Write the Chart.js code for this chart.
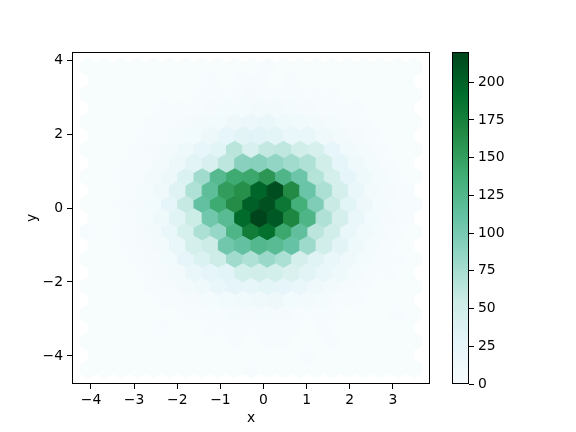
<!DOCTYPE html>
<html>
<head>
<meta charset="utf-8">
<script src="https://cdn.jsdelivr.net/npm/chart.js@4/dist/chart.umd.min.js"></script>
<style>
  html, body { margin: 0; padding: 0; background: #fff; }
  #wrap { position: relative; width: 576px; height: 432px; }
  #wrap canvas { position: absolute; left: 0; top: 0; }
</style>
</head>
<body>
<div id="wrap">
  <canvas id="hexChart" width="576" height="432"></canvas>
  <canvas id="colorbar" width="576" height="432"></canvas>
</div>
<script>
// data extents of the sample and hexbin grid size
const xMin = -4.063, xMax = 3.482;
const yMin = -4.352, yMax = 3.812;
const gridX = 20, gridY = 11;

// axis ranges and ticks
const xAxisMin = -4.44, xAxisMax = 3.86;
const yAxisMin = -4.76, yAxisMax = 4.22;
const xTicks = [-4, -3, -2, -1, 0, 1, 2, 3];
const yTicks = [-4, -2, 0, 2, 4];
const cbarTicks = [0, 25, 50, 75, 100, 125, 150, 175, 200];

// counts per hexagon, top row first (rows alternate 21 / 20 cells)
const countRows = [
  [0,0,0,0,0,0,0,0,0,0,0,1,0,0,0,0,0,0,0,0,0],
  [0,0,0,0,0,0,0,1,0,1,1,0,1,0,0,0,0,0,0,0],
  [0,0,0,0,0,0,0,1,1,2,3,1,2,2,1,1,0,0,0,0,0],
  [0,0,0,0,1,1,2,3,5,4,6,7,5,3,2,1,1,0,0,0],
  [0,0,0,0,1,2,3,6,9,14,18,20,13,11,8,4,2,1,0,0,0],
  [0,0,0,1,2,5,9,16,24,30,31,29,22,20,12,7,3,1,0,0],
  [0,0,0,1,3,6,13,24,32,65,42,60,62,50,43,24,11,4,2,0,0],
  [0,0,1,2,6,15,30,42,63,91,92,86,78,70,50,28,12,4,2,0],
  [0,0,1,2,6,15,38,78,122,140,142,156,126,106,68,46,28,13,4,1,0],
  [0,0,2,5,12,34,70,116,152,162,198,214,166,108,72,46,21,8,3,1],
  [0,0,1,3,9,26,58,112,140,164,202,212,182,136,96,56,32,14,5,2,1],
  [0,0,2,5,13,33,55,104,120,194,220,206,170,128,70,46,22,9,3,1],
  [1,0,1,3,7,22,44,72,84,128,178,190,142,114,64,48,22,11,4,1,0],
  [0,0,1,3,8,22,46,54,104,112,124,120,110,80,48,30,13,5,2,0],
  [0,0,0,1,3,9,26,38,52,78,70,82,72,46,33,22,12,5,2,1,0],
  [0,0,0,1,3,8,20,26,31,47,48,47,40,30,21,13,5,2,1,0],
  [0,0,0,0,1,3,6,12,20,26,25,29,26,21,12,7,3,1,0,0,0],
  [0,0,0,0,1,2,3,5,9,11,12,14,9,7,4,2,1,0,0,0],
  [0,0,0,0,0,0,1,1,2,4,3,5,3,2,2,1,0,0,0,1,0],
  [0,0,0,0,1,0,0,1,1,1,2,1,1,0,1,0,0,0,0,0],
  [0,0,0,0,0,0,0,0,0,1,0,1,1,0,0,1,0,0,0,0,0],
  [0,0,0,0,0,0,0,0,0,0,0,0,0,1,0,0,0,0,0,0],
  [0,0,0,0,0,0,0,0,0,0,1,0,0,0,0,0,0,0,0,0,0]
];

// BuGn colormap stops
const bugnStops = ['#f7fcfd', '#e5f5f9', '#ccece6', '#99d8c9', '#66c2a4',
  '#41ae76', '#238b45', '#006d2c', '#00441b'];

const sx = (xMax - xMin) / gridX;
const sy = (yMax - yMin) / gridY;
const countMax = Math.max(...countRows.flat());

// hexagon corners in units of [sx, sy/3], as matplotlib draws them
const hexCorners = [[0.5, -0.5], [0.5, 0.5], [0, 1], [-0.5, 0.5], [-0.5, -0.5], [0, -1]];

// lattice 1 (even rows) first, then lattice 2 (odd rows, shifted half a cell)
const cells = [];
[0, 1].forEach(lat => {
    countRows.forEach((row, r) => {
        const k = countRows.length - 1 - r;
        if (k % 2 !== lat) return;
        row.forEach((v, i) => {
            cells.push({ x: xMin + (i + lat * 0.5) * sx, y: yMin + k * sy / 2, v });
        });
    });
});

function hexToRgb(h) {
    return [1, 3, 5].map(p => parseInt(h.slice(p, p + 2), 16));
}
const stopRgb = bugnStops.map(hexToRgb);

function bugn(t) {
    t = Math.min(1, Math.max(0, t));
    const pos = t * (stopRgb.length - 1);
    const i = Math.min(stopRgb.length - 2, Math.floor(pos));
    const f = pos - i;
    const c = stopRgb[i].map((a, j) => Math.round(a + (stopRgb[i + 1][j] - a) * f));
    return `rgb(${c[0]},${c[1]},${c[2]})`;
}

const minusFmt = v => (v < 0 ? '\u2212' + Math.abs(v) : String(v));

Chart.defaults.font.family = "'DejaVu Sans', sans-serif";
Chart.defaults.font.size = 13.9;
Chart.defaults.color = '#000';

const framePlugin = {
    id: 'frame',
    afterDraw(chart) {
        const { ctx, chartArea: a } = chart;
        ctx.save();
        ctx.strokeStyle = '#000';
        ctx.lineWidth = 1;
        ctx.strokeRect(Math.round(a.left) + 0.5, Math.round(a.top) + 0.5,
            Math.round(a.right - a.left) - 1, Math.round(a.bottom - a.top) - 1);
        ctx.restore();
    }
};

const hexPlugin = {
    id: 'hexCells',
    beforeDatasetsDraw(chart) {
        const { ctx, chartArea: a, scales: { x, y } } = chart;
        ctx.save();
        ctx.beginPath();
        ctx.rect(a.left, a.top, a.right - a.left, a.bottom - a.top);
        ctx.clip();
        ctx.lineWidth = 1;
        chart.data.datasets[0].data.forEach(c => {
            const color = bugn(c.v / countMax);
            ctx.fillStyle = color;
            ctx.strokeStyle = color;
            ctx.beginPath();
            hexCorners.forEach(([dx, dy], i) => {
                const px = x.getPixelForValue(c.x + dx * sx);
                const py = y.getPixelForValue(c.y + dy * sy / 3);
                if (i === 0) ctx.moveTo(px, py); else ctx.lineTo(px, py);
            });
            ctx.closePath();
            ctx.fill();
            ctx.stroke();
        });
        ctx.restore();
    }
};

const tickGrid = { drawOnChartArea: false, drawTicks: true, tickLength: 5, color: '#000', lineWidth: 1 };

new Chart(document.getElementById('hexChart'), {
    type: 'scatter',
    data: { datasets: [{ data: cells, pointRadius: 0, pointHoverRadius: 0 }] },
    options: {
        responsive: false,
        animation: false,
        events: [],
        layout: { padding: { left: 0, top: 52, right: 146, bottom: 0 } },
        plugins: { legend: { display: false }, tooltip: { enabled: false } },
        scales: {
            x: {
                type: 'linear', min: xAxisMin, max: xAxisMax,
                afterBuildTicks: s => { s.ticks = xTicks.map(v => ({ value: v })); },
                afterFit: s => { s.height = 48; },
                ticks: { callback: minusFmt, padding: 3, maxRotation: 0, autoSkip: false },
                grid: tickGrid,
                border: { display: false },
                title: { display: true, text: 'x', padding: { top: 0, bottom: 5 } }
            },
            y: {
                type: 'linear', min: yAxisMin, max: yAxisMax,
                afterBuildTicks: s => { s.ticks = yTicks.map(v => ({ value: v })); },
                afterFit: s => { s.width = 72; },
                ticks: { callback: minusFmt, padding: 4, autoSkip: false },
                grid: tickGrid,
                border: { display: false },
                title: { display: true, text: 'y', padding: { top: 24, bottom: 0 } }
            }
        }
    },
    plugins: [hexPlugin, framePlugin]
});

new Chart(document.getElementById('colorbar'), {
    type: 'bar',
    data: {
        labels: ['count'],
        datasets: [{
            data: [[0, countMax]],
            barPercentage: 1,
            categoryPercentage: 1,
            borderWidth: 0,
            backgroundColor: ctx => {
                const area = ctx.chart.chartArea;
                if (!area) return bugnStops[4];
                const g = ctx.chart.ctx.createLinearGradient(0, area.bottom, 0, area.top);
                bugnStops.forEach((c, i) => g.addColorStop(i / (bugnStops.length - 1), c));
                return g;
            }
        }]
    },
    options: {
        responsive: false,
        animation: false,
        events: [],
        layout: { padding: { left: 452, top: 52, right: 0, bottom: 48 } },
        plugins: { legend: { display: false }, tooltip: { enabled: false } },
        scales: {
            x: { display: false },
            y: {
                position: 'right', min: 0, max: countMax,
                afterBuildTicks: s => { s.ticks = cbarTicks.map(v => ({ value: v })); },
                afterFit: s => { s.width = 107; },
                ticks: { padding: 4, autoSkip: false },
                grid: tickGrid,
                border: { display: false }
            }
        }
    },
    plugins: [framePlugin]
});
</script>
</body>
</html>
